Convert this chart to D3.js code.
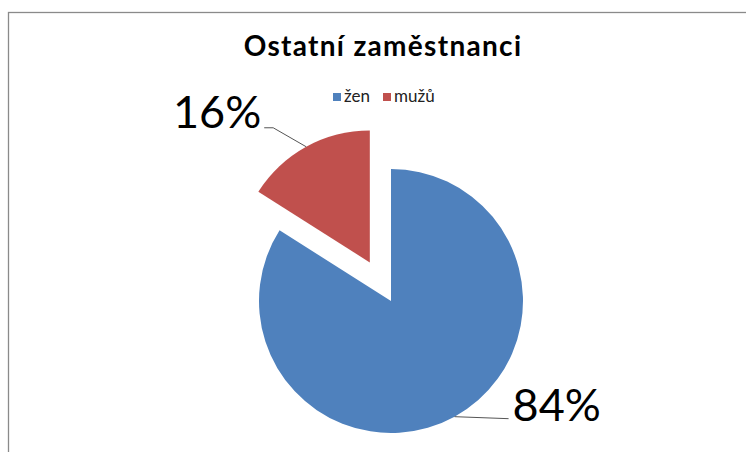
<!DOCTYPE html>
<html>
<head>
<meta charset="utf-8">
<script src="https://cdn.jsdelivr.net/npm/d3@7"></script>
<style>
  html, body { margin: 0; padding: 0; background: #fff; }
  svg { display: block; font-family: Lato, "Open Sans", sans-serif; }
</style>
</head>
<body>
<div class="canvas"></div>
<script>
// data
const categories = ["žen", "mužů"];
const values = [84, 16];
const labels = ["84%", "16%"];
const colors = ["#4F81BD", "#C0504D"];
const title = "Ostatní zaměstnanci";

const svgWidth = 746, svgHeight = 452;
const cx = 391, cy = 301, radius = 132;
const explode = 44; // odsunutí výseče mužů

const svg = d3.select(".canvas").append("svg")
  .attr("width", svgWidth)
  .attr("height", svgHeight);

// rámeček grafu
svg.append("rect")
  .attr("x", 8.5).attr("y", 12.5)
  .attr("width", 900).attr("height", 600)
  .attr("fill", "none")
  .attr("stroke", "#8a8a8a")
  .attr("stroke-width", 1.3);

// titulek
svg.append("text")
  .attr("x", 383).attr("y", 56)
  .attr("text-anchor", "middle")
  .attr("font-size", 28)
  .attr("font-weight", "bold")
  .attr("letter-spacing", 1.3)
  .attr("fill", "#000")
  .text(title);

// legenda
const legendX = [333, 383];
const legend = svg.selectAll(".legend")
  .data(categories)
  .join("g")
  .attr("class", "legend")
  .attr("transform", (d, i) => `translate(${legendX[i]},93)`);

legend.append("rect")
  .attr("width", 8).attr("height", 8)
  .attr("fill", (d, i) => colors[i]);

legend.append("text")
  .attr("x", 11).attr("y", 8.5)
  .attr("font-size", 17)
  .attr("fill", "#222")
  .text(d => d);

// koláč
const pie = d3.pie().sort(null).value(d => d)(values);
const arc = d3.arc().innerRadius(0).outerRadius(radius);

function offset(d, i) {
  if (i !== 1) return [0, 0];
  const a = (d.startAngle + d.endAngle) / 2;
  return [Math.sin(a) * explode, -Math.cos(a) * explode];
}

const g = svg.append("g").attr("transform", `translate(${cx},${cy})`);

g.selectAll("path")
  .data(pie)
  .join("path")
  .attr("transform", (d, i) => `translate(${offset(d, i)})`)
  .attr("d", arc)
  .attr("fill", (d, i) => colors[i]);

// popisky s vodicími čarami
pie.forEach((d, i) => {
  const a = (d.startAngle + d.endAngle) / 2;
  const o = offset(d, i);
  const sx = o[0] + Math.sin(a) * radius;
  const sy = o[1] - Math.cos(a) * radius;
  let pts, tx, ty, anchor;
  if (i === 1) {
    pts = [[sx, sy], [sx - 33, sy - 19], [sx - 42, sy - 19]];
    tx = sx - 45; ty = sy - 19; anchor = "end";
  } else {
    pts = [[sx, sy], [sx + 54, sy + 2]];
    tx = sx + 58; ty = sy + 4; anchor = "start";
  }
  g.append("path")
    .attr("d", d3.line()(pts))
    .attr("fill", "none")
    .attr("stroke", "#555")
    .attr("stroke-width", 1);
  g.append("text")
    .attr("x", tx).attr("y", ty)
    .attr("text-anchor", anchor)
    .attr("font-size", 45)
    .attr("fill", "#000")
    .text(labels[i]);
});
</script>
</body>
</html>
